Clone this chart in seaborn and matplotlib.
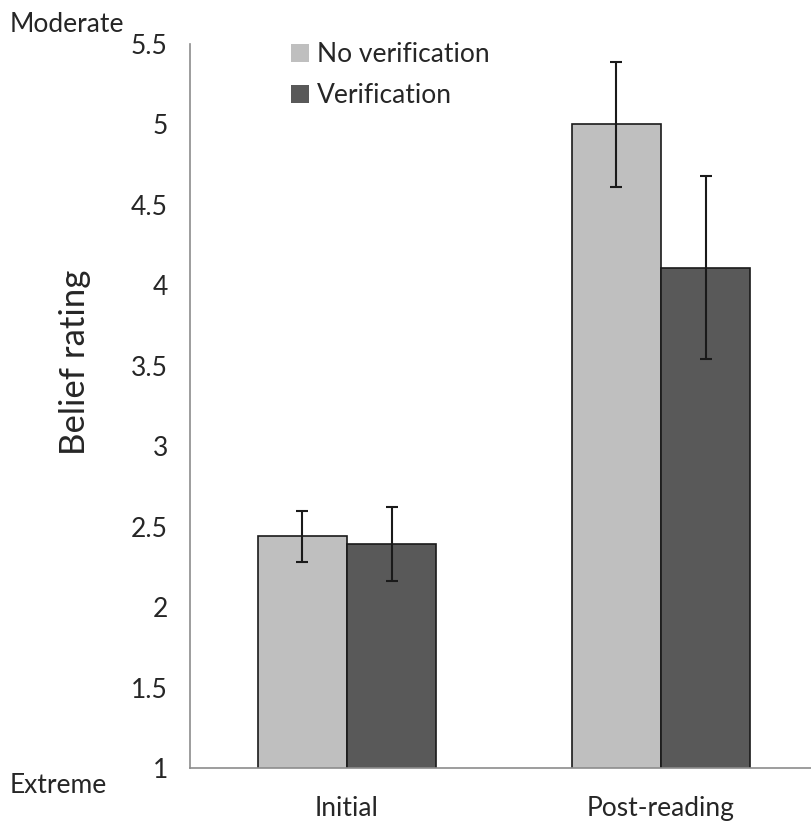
import matplotlib
matplotlib.use("Agg")
import matplotlib.pyplot as plt
import seaborn as sns
import pandas as pd
from matplotlib.patches import Patch
from matplotlib.ticker import FixedLocator

phases = ["Initial", "Post-reading"]
conditions = ["No verification", "Verification"]
no_verif_mean = [2.44, 5.00]
no_verif_low = [2.28, 4.61]
no_verif_high = [2.60, 5.39]
verif_mean = [2.39, 4.11]
verif_low = [2.16, 3.54]
verif_high = [2.62, 4.68]
colors = ["#BFBFBF", "#595959"]
yticks = [1, 1.5, 2, 2.5, 3, 3.5, 4, 4.5, 5, 5.5]

df = pd.DataFrame({
    "phase": phases * 2,
    "condition": [conditions[0]] * 2 + [conditions[1]] * 2,
    "rating": no_verif_mean + verif_mean,
})

sns.set_style("white")
plt.rcParams["font.family"] = ["Lato", "DejaVu Sans"]

fig = plt.figure(figsize=(8.11, 8.21), dpi=100)
ax = fig.add_axes([190 / 811, 53 / 821, 628 / 811, 724 / 821])

sns.barplot(data=df, x="phase", y="rating", hue="condition", order=phases,
            hue_order=conditions, palette=colors, width=0.57,
            edgecolor="#1a1a1a", linewidth=1.2, errorbar=None, ax=ax,
            legend=False)

lows = [no_verif_low, verif_low]
highs = [no_verif_high, verif_high]
means = [no_verif_mean, verif_mean]
bar_conts = list(ax.containers)
for ci, cont in enumerate(bar_conts):
    for bi, bar in enumerate(cont.patches):
        xc = bar.get_x() + bar.get_width() / 2
        m = means[ci][bi]
        ax.errorbar(xc, m, yerr=[[m - lows[ci][bi]], [highs[ci][bi] - m]],
                    fmt="none", ecolor="#1a1a1a", elinewidth=1.5,
                    capsize=4.3, capthick=1.5, zorder=5)

ax.set_ylim(1, 5.5)
ax.set_xlim(-0.5, 1.5)
ax.set_yticks(yticks)
ax.set_yticklabels([f"{t:g}" for t in yticks], fontsize=19)
ax.set_xticks([0, 1])
ax.set_xticklabels(phases, fontsize=19)
ax.xaxis.set_minor_locator(FixedLocator([-0.5, 0.5, 1.5]))
ax.tick_params(axis="x", which="major", length=0, pad=20)
ax.tick_params(axis="x", which="minor", length=7, color="#8c8c8c", width=1, direction="out")
ax.tick_params(axis="y", length=6, color="#8c8c8c", width=1, direction="out", pad=10)
ax.set_xlabel("")
ax.set_ylabel("")

for s in ["top", "right"]:
    ax.spines[s].set_visible(False)
for s in ["left", "bottom"]:
    ax.spines[s].set_color("#8c8c8c")
    ax.spines[s].set_linewidth(1.2)

fig.text(75 / 811, 1 - 362 / 821, "Belief rating", rotation=90, fontsize=25,
         ha="center", va="center")
fig.text(10 / 811, 1 - 25 / 821, "Moderate", fontsize=19, ha="left", va="center")
fig.text(10 / 811, 1 - 785 / 821, "Extreme", fontsize=19, ha="left", va="center")

handles = [Patch(facecolor=c, edgecolor="none") for c in colors]
ax.legend(handles, conditions, loc="upper left", bbox_to_anchor=(0.123, 1.035),
          frameon=False, fontsize=19, handlelength=0.7, handleheight=0.7,
          handletextpad=0.3, labelspacing=0.6)

fig.savefig("out.png", dpi=100)
